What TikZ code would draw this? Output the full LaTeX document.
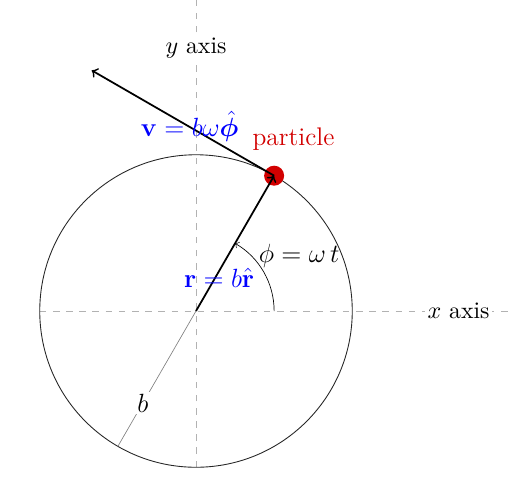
\documentclass[tikz,border=0pt]{standalone}
\usepackage{amsmath,amssymb,bm}
\usetikzlibrary{calc}
\definecolor{partred}{RGB}{210,0,0}
\tikzset{
  axisline/.style={dashed,gray!60},
  vecline/.style={thick,->},
  veclabel/.style={text=blue,font=\large},
  txtlabel/.style={font=\fontsize{10.8}{13}\selectfont},
}
\begin{document}
\begin{tikzpicture}
    \useasboundingbox (-3.136,-2.688) rectangle (5.056,4.976);
    % axes
    \coordinate (O) at (0,0);
    \coordinate (xl) at (-2.5,0);
    \coordinate (xr) at (5.06,0);
    \coordinate (yb) at (0,-2.5);
    \coordinate (yt) at (0,4.98);
    \draw[axisline] (xl) -- (xr);
    \draw[axisline] (yb) -- (yt);
    \node[txtlabel,fill=white,inner sep=1pt] (xaxis) at (4.2,0) {$x$ axis};
    \node[txtlabel,fill=white,inner sep=1pt] (yaxis) at (0,4.21) {$y$ axis};

    % orbit
    \draw[black!85,line width=0.4pt] (O) circle (2.5);

    % radius b
    \coordinate (B) at (240:2.5);
    \draw[gray,line width=0.3pt] (O) -- (B)
        node[pos=0.68,fill=white,inner sep=1pt,text=black,font=\large] (blabel) {$b$};

    % particle
    \node[circle,fill=partred,minimum size=0.32cm,inner sep=0pt] (P) at (60:2.5) {};
    \node[text=partred,font=\fontsize{11.6}{14}\selectfont] (plabel) at ($(P)+(0.31,0.59)$) {particle};

    % angle
    \draw[->,line width=0.3pt] (1.25,0) arc (0:60:1.25);
    \node[font=\large] (philabel) at (1.65,0.88) {$\phi = \omega\, t$};

    % vectors
    \coordinate (V) at ($(P)+(150:3.37)$);
    \draw[vecline] (O) -- (P.center);
    \draw[vecline] (P.center) -- (V);
    \node[veclabel] (rlabel) at (0.37,0.53) {$\mathbf{r} = b\hat{\mathbf{r}}$};
    \node[veclabel] (vlabel) at (-0.1,2.96) {$\mathbf{v} = b\omega\hat{\bm{\phi}}$};
\end{tikzpicture}
\end{document}
